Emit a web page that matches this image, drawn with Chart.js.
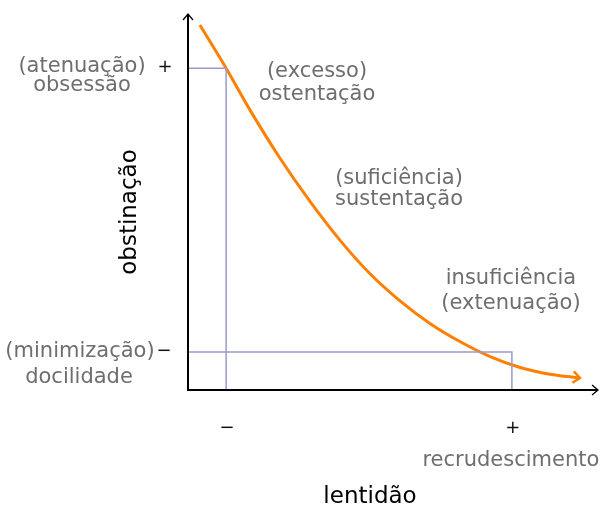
<!DOCTYPE html>
<html><head><meta charset="utf-8">
<script src="https://cdn.jsdelivr.net/npm/chart.js@4"></script>
<style>html,body{margin:0;padding:0;background:#fff}#wrap{width:601px;height:507px}</style>
</head><body><div id="wrap"><canvas id="c" width="601" height="507"></canvas></div>
<script>
// curve (lentidão vs obstinação), arbitrary 0-100 units
const curveX = [2.9, 9.3, 15.1, 22.4, 29.8, 37.1, 44.4, 51.7, 59.0, 66.3, 73.7, 81.0, 88.3, 95.6];
const curveY = [97.1, 85.6, 74.5, 61.7, 50.1, 39.8, 30.9, 23.7, 17.7, 12.9, 8.9, 6.0, 4.2, 3.2];
// reference levels
const highX = 9.3, highY = 85.6;   // "−" lentidão, "+" obstinação
const lowX = 79.0, lowY = 10.1;    // "+" lentidão, "−" obstinação
const xTickLabels = ["−", "+"];
const yTickLabels = ["+", "−"];

const curve = curveX.map((x, i) => ({x, y: curveY[i]}));
const rectHigh = [{x: 0, y: highY}, {x: highX, y: highY}, {x: highX, y: 0}];
const rectLow = [{x: 0, y: lowY}, {x: lowX, y: lowY}, {x: lowX, y: 0}];

const FONT = '"DejaVu Sans", sans-serif';
const GRAY = '#6e6e6e';

const decor = {
  id: 'decor',
  afterDatasetsDraw(chart) {
    const {ctx, chartArea: a, scales: {x, y}} = chart;
    ctx.save();
    // axes
    ctx.strokeStyle = '#000'; ctx.lineWidth = 2; ctx.lineCap = 'butt';
    ctx.beginPath();
    ctx.moveTo(a.left, a.top); ctx.lineTo(a.left, a.bottom); ctx.lineTo(a.right, a.bottom);
    ctx.stroke();
    ctx.lineWidth = 1.3;
    ctx.beginPath();
    ctx.moveTo(a.left - 5, a.top + 6); ctx.lineTo(a.left, a.top); ctx.lineTo(a.left + 5, a.top + 6);
    ctx.moveTo(a.right - 6, a.bottom - 5); ctx.lineTo(a.right, a.bottom); ctx.lineTo(a.right - 6, a.bottom + 5);
    ctx.stroke();
    // curve arrowhead
    const n = curve.length;
    const px = x.getPixelForValue(curve[n-1].x), py = y.getPixelForValue(curve[n-1].y);
    const qx = x.getPixelForValue(curve[n-2].x), qy = y.getPixelForValue(curve[n-2].y);
    const ang = Math.atan2(py - qy, px - qx);
    ctx.strokeStyle = '#ff8000'; ctx.lineWidth = 2.5; ctx.lineJoin = 'miter';
    ctx.beginPath();
    ctx.moveTo(px + 9*Math.cos(ang + 2.45), py + 9*Math.sin(ang + 2.45));
    ctx.lineTo(px, py);
    ctx.lineTo(px + 9*Math.cos(ang - 2.45), py + 9*Math.sin(ang - 2.45));
    ctx.stroke();

    ctx.textAlign = 'center'; ctx.textBaseline = 'middle';
    // tick marks
    ctx.font = '18px ' + FONT; ctx.fillStyle = '#111';
    ctx.fillText(xTickLabels[0], x.getPixelForValue(highX) + 1, a.bottom + 38);
    ctx.fillText(xTickLabels[1], x.getPixelForValue(lowX) + 1, a.bottom + 38);
    ctx.fillText(yTickLabels[0], a.left - 23, y.getPixelForValue(highY) - 1);
    ctx.fillText(yTickLabels[1], a.left - 24, y.getPixelForValue(lowY) - 1);
    // gray labels
    ctx.textBaseline = 'alphabetic';
    ctx.font = '21px ' + FONT; ctx.fillStyle = GRAY;
    const t = (s, cx, by) => ctx.fillText(s, cx, by);
    t('(atenuação)', 82, 72); t('obsessão', 82, 91);
    t('(minimização)', 80, 357); t('docilidade', 79, 383);
    t('(excesso)', 317, 77); t('ostentação', 317, 100);
    t('(suficiência)', 399, 184); t('sustentação', 399, 205);
    t('insuficiência', 511, 284); t('(extenuação)', 511, 309);
    t('recrudescimento', x.getPixelForValue(lowX) - 1, a.bottom + 76);
    // axis titles
    ctx.font = '23px ' + FONT; ctx.fillStyle = '#000';
    ctx.fillText('lentidão', 370, 503);
    ctx.textBaseline = 'middle';
    ctx.translate(130, 212); ctx.rotate(-Math.PI/2);
    ctx.fillText('obstinação', 0, 0);
    ctx.restore();
  }
};

new Chart(document.getElementById('c'), {
  type: 'scatter',
  data: {datasets: [
    {data: rectHigh, showLine: true, borderColor: '#9a9acc', borderWidth: 1.5, pointRadius: 0, clip: false},
    {data: rectLow, showLine: true, borderColor: '#9a9acc', borderWidth: 1.5, pointRadius: 0, clip: false},
    {data: curve, showLine: true, borderColor: '#ff8000', borderWidth: 3, pointRadius: 0, cubicInterpolationMode: 'monotone', clip: false}
  ]},
  options: {
    responsive: false, animation: false, events: [],
    layout: {padding: {left: 188, right: 3, top: 14, bottom: 117}},
    plugins: {legend: {display: false}, tooltip: {enabled: false}},
    scales: {
      x: {type: 'linear', min: 0, max: 100, display: false},
      y: {type: 'linear', min: 0, max: 100, display: false}
    }
  },
  plugins: [decor]
});
</script></body></html>
